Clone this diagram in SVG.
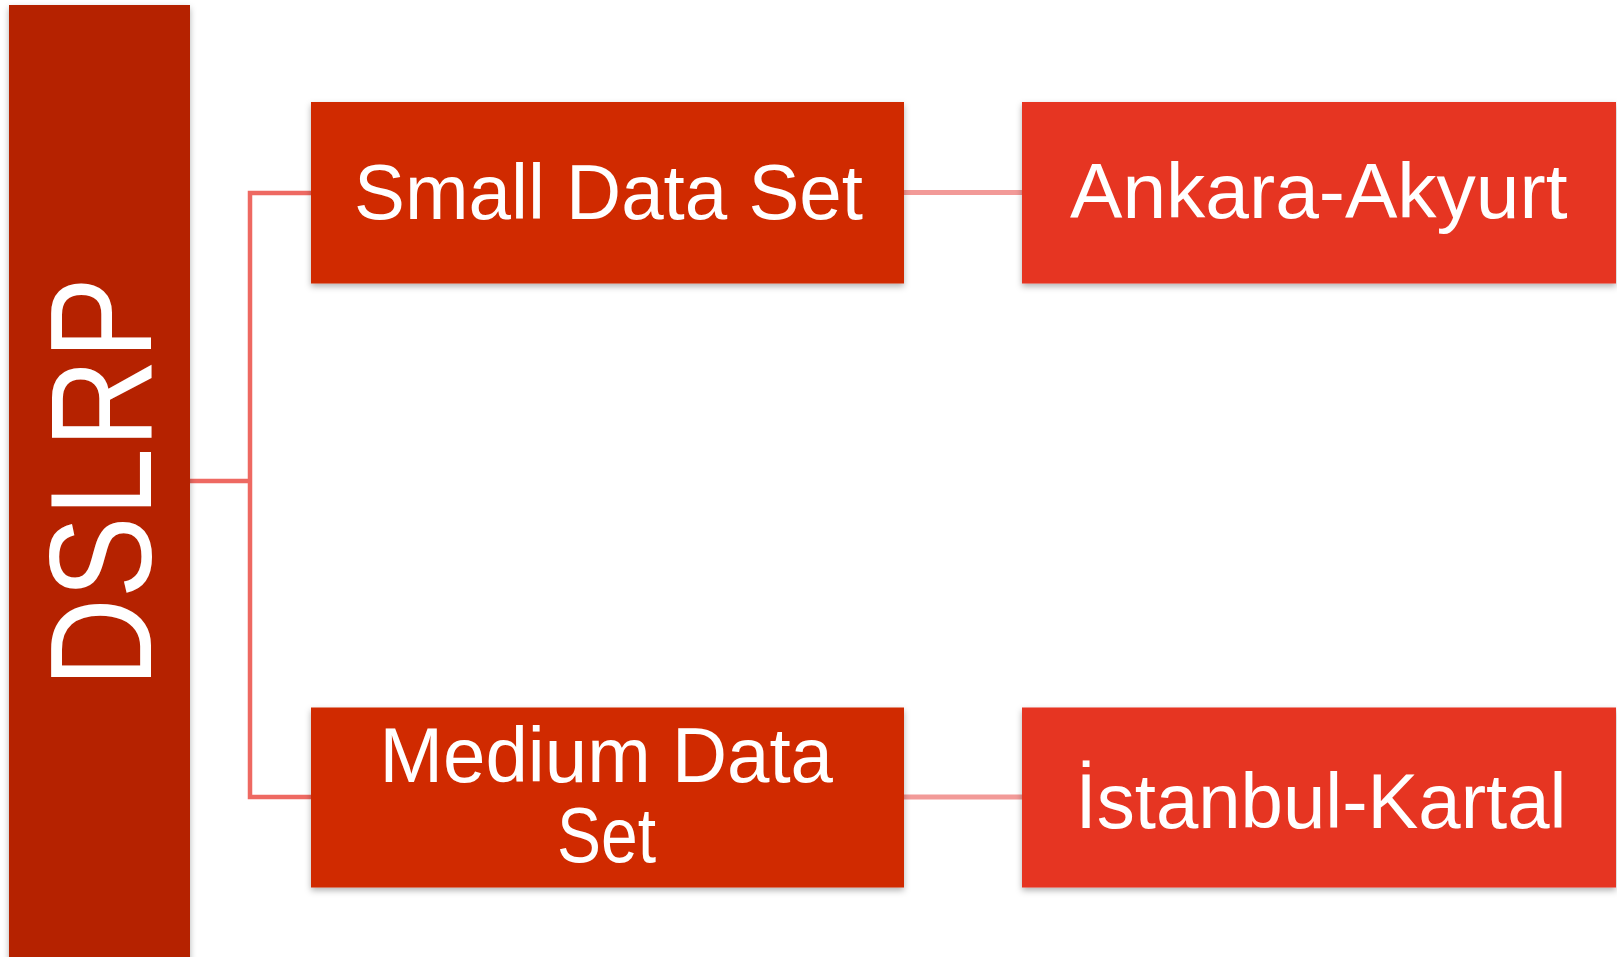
<svg xmlns="http://www.w3.org/2000/svg" width="1617" height="957" viewBox="0 0 1617 957">
<style>
  .lbl { font-family: "Liberation Sans", Arial, sans-serif; fill: #ffffff; font-size: 78px; }
  .big { font-family: "Liberation Sans", Arial, sans-serif; fill: #ffffff; font-size: 144px; }
  .c1 { stroke: #EE6962; stroke-width: 4.5; fill: none; }
  .c2 { stroke: #F29A98; stroke-width: 5; fill: none; }
</style>
<defs>
  <filter id="sh" x="-5%" y="-5%" width="112%" height="115%">
    <feDropShadow dx="0" dy="3" stdDeviation="3" flood-color="#000" flood-opacity="0.3"/>
  </filter>
</defs>
<rect width="1617" height="957" fill="#ffffff"/>
<g id="connectors">
  <path class="c1" d="M190 481 H250 M311 193 H250 V797 H311"/>
  <path class="c2" d="M904 192.5 H1022 M904 797 H1022"/>
</g>
<g id="dslrp">
  <rect x="9" y="5" width="181" height="960" fill="#B52300" filter="url(#sh)"/>
  <text class="big" transform="translate(150.5 687) rotate(-90)" textLength="410" lengthAdjust="spacingAndGlyphs">DSLRP</text>
</g>
<g id="small">
  <rect x="311" y="102" width="593" height="181.5" fill="#D02900" filter="url(#sh)"/>
  <text class="lbl" x="354" y="219" textLength="509" lengthAdjust="spacingAndGlyphs">Small Data Set</text>
</g>
<g id="medium">
  <rect x="311" y="707.5" width="593" height="180" fill="#D02900" filter="url(#sh)"/>
  <text class="lbl" x="379.5" y="782" textLength="453.5" lengthAdjust="spacingAndGlyphs">Medium Data</text>
  <text class="lbl" x="557" y="862" textLength="99" lengthAdjust="spacingAndGlyphs">Set</text>
</g>
<g id="ankara">
  <rect x="1022" y="102" width="594" height="181.5" fill="#E63522" filter="url(#sh)"/>
  <text class="lbl" x="1070" y="218" textLength="497.5" lengthAdjust="spacingAndGlyphs">Ankara-Akyurt</text>
</g>
<g id="istanbul">
  <rect x="1022" y="707.5" width="594" height="180" fill="#E63522" filter="url(#sh)"/>
  <text class="lbl" x="1075.5" y="828" textLength="491" lengthAdjust="spacingAndGlyphs">İstanbul-Kartal</text>
</g>
</svg>
